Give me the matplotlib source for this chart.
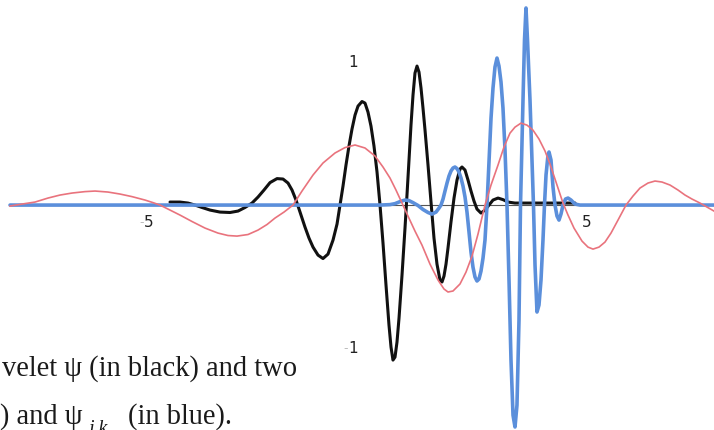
import matplotlib
matplotlib.use("Agg")
import matplotlib.pyplot as plt

# ---- data ----
red_x = [-8.102, -7.830, -7.534, -7.239, -6.966, -6.693, -6.398, -6.170, -5.875, -5.602,
         -5.330, -5.034, -4.852, -4.693, -4.466, -4.239, -3.966, -3.670, -3.375, -3.148,
         -2.943, -2.693, -2.466, -2.261, -2.080, -1.875, -1.670, -1.466, -1.216, -0.989,
         -0.716, -0.489, -0.261, -0.034, 0.193, 0.375, 0.534, 0.670, 0.807, 0.943,
         1.102, 1.261, 1.443, 1.625, 1.761, 1.852, 1.966, 2.125, 2.261, 2.398,
         2.534, 2.693, 2.830, 2.989, 3.125, 3.261, 3.375, 3.511, 3.648, 3.784,
         3.920, 4.057, 4.170, 4.307, 4.466, 4.580, 4.716, 4.898, 5.034, 5.148,
         5.284, 5.420, 5.557, 5.716, 5.898, 6.057, 6.216, 6.398, 6.557, 6.716,
         6.898, 7.080, 7.239, 7.398, 7.580, 7.739, 7.898]
red_y = [-0.007, 0.007, 0.021, 0.049, 0.070, 0.084, 0.094, 0.098, 0.091, 0.077,
         0.059, 0.035, 0.017, 0.0, -0.035, -0.070, -0.115, -0.161, -0.196, -0.213,
         -0.217, -0.206, -0.175, -0.136, -0.091, -0.049, 0.0, 0.098, 0.210, 0.294,
         0.364, 0.402, 0.420, 0.399, 0.343, 0.266, 0.189, 0.105, 0.014, -0.077,
         -0.182, -0.280, -0.413, -0.524, -0.587, -0.608, -0.601, -0.552, -0.469, -0.357,
         -0.203, 0.0, 0.140, 0.280, 0.406, 0.503, 0.545, 0.573, 0.559, 0.524,
         0.462, 0.378, 0.287, 0.161, 0.014, -0.070, -0.161, -0.252, -0.294, -0.308,
         -0.294, -0.259, -0.196, -0.105, 0.0, 0.063, 0.119, 0.154, 0.168, 0.161,
         0.140, 0.105, 0.070, 0.042, 0.014, -0.014, -0.042]

black_x = [-4.466, -4.239, -4.057, -3.898, -3.739, -3.557, -3.330, -3.102, -2.920, -2.761,
           -2.602, -2.466, -2.330, -2.193, -2.034, -1.898, -1.784, -1.693, -1.602, -1.511,
           -1.398, -1.307, -1.216, -1.102, -0.989, -0.875, -0.761, -0.670, -0.602, -0.534,
           -0.466, -0.398, -0.330, -0.261, -0.193, -0.102, -0.034, 0.034, 0.102, 0.170,
           0.239, 0.307, 0.375, 0.443, 0.511, 0.557, 0.602, 0.648, 0.693, 0.739,
           0.807, 0.875, 0.920, 0.966, 1.011, 1.057, 1.102, 1.148, 1.193, 1.239,
           1.284, 1.330, 1.398, 1.466, 1.534, 1.602, 1.670, 1.716, 1.761, 1.807,
           1.852, 1.920, 1.989, 2.057, 2.125, 2.170, 2.239, 2.307, 2.375, 2.443,
           2.511, 2.602, 2.693, 2.784, 2.875, 2.989, 3.102, 3.216, 3.375, 4.739]
black_y = [0.021, 0.021, 0.014, 0.0, -0.017, -0.035, -0.049, -0.052, -0.042, -0.017,
           0.014, 0.056, 0.105, 0.157, 0.185, 0.182, 0.154, 0.105, 0.035, -0.049,
           -0.154, -0.231, -0.294, -0.350, -0.374, -0.343, -0.245, -0.133, 0.0, 0.133,
           0.280, 0.413, 0.531, 0.629, 0.692, 0.724, 0.713, 0.650, 0.552, 0.413,
           0.231, 0.0, -0.266, -0.559, -0.839, -0.993, -1.084, -1.063, -0.958, -0.790,
           -0.490, -0.161, 0.070, 0.315, 0.559, 0.769, 0.923, 0.972, 0.930, 0.818,
           0.678, 0.524, 0.280, 0.021, -0.231, -0.413, -0.524, -0.538, -0.497, -0.413,
           -0.301, -0.119, 0.049, 0.175, 0.252, 0.266, 0.245, 0.175, 0.098, 0.028,
           -0.028, -0.056, -0.035, 0.0, 0.035, 0.049, 0.038, 0.021, 0.014, 0.014]

blue_x = [-8.102, 0.307, 0.534, 0.648, 0.761, 0.875, 0.966, 1.057, 1.170, 1.284,
          1.398, 1.489, 1.580, 1.648, 1.693, 1.739, 1.784, 1.830, 1.875, 1.920,
          1.966, 2.011, 2.057, 2.102, 2.148, 2.193, 2.239, 2.284, 2.330, 2.375,
          2.420, 2.466, 2.511, 2.557, 2.602, 2.648, 2.693, 2.739, 2.784, 2.830,
          2.875, 2.920, 2.966, 3.011, 3.057, 3.102, 3.148, 3.193, 3.239, 3.284,
          3.330, 3.375, 3.420, 3.466, 3.500, 3.557, 3.591, 3.625, 3.659, 3.716,
          3.795, 3.830, 3.875, 3.920, 3.966, 4.011, 4.045, 4.080, 4.125, 4.148,
          4.193, 4.239, 4.284, 4.330, 4.375, 4.420, 4.466, 4.523, 4.580, 4.648,
          4.739, 4.852, 7.898]
blue_y = [0.0, 0.0, 0.003, 0.010, 0.024, 0.035, 0.031, 0.017, -0.003, -0.031,
          -0.052, -0.063, -0.049, -0.021, 0.0, 0.042, 0.098, 0.154, 0.203, 0.238,
          0.259, 0.266, 0.255, 0.231, 0.189, 0.133, 0.056, -0.049, -0.189, -0.329,
          -0.434, -0.503, -0.531, -0.517, -0.462, -0.371, -0.245, 0.0, 0.301, 0.608,
          0.818, 0.965, 1.028, 0.972, 0.860, 0.678, 0.385, 0.0, -0.524, -1.084,
          -1.469, -1.552, -1.399, -0.804, 0.0, 0.734, 1.154, 1.378, 1.154, 0.734,
          0.0, -0.420, -0.748, -0.699, -0.524, -0.245, 0.0, 0.210, 0.350, 0.371,
          0.315, 0.126, 0.0, -0.077, -0.105, -0.063, 0.0, 0.042, 0.049, 0.035,
          0.007, 0.0, 0.0]

x_ticks = [-5, 5]
y_ticks = [1, -1]
caption_line1 = "velet ψ (in black) and two"
caption_line2a = ") and ψ"
caption_sub = "j,k"
caption_line2b = "(in blue)."

W, H = 714, 430
fig = plt.figure(figsize=(W / 100, H / 100), dpi=100)
fig.patch.set_facecolor("white")
ax = fig.add_axes([0, 0, 1, 1])
ax.set_xlim(-8.330, 7.898)
ax.set_ylim(-1.573, 1.434)
ax.axis("off")

# x axis line
ax.axhline(0, xmin=10 / W, xmax=1, color="#555555", lw=0.8, zorder=1)

ax.plot(black_x, black_y, color="#111111", lw=2.2, solid_capstyle="round",
        solid_joinstyle="round", zorder=2)
ax.plot(blue_x, blue_y, color="#5b8fdb", lw=2.6, solid_capstyle="round",
        solid_joinstyle="round", zorder=3)
ax.plot(red_x, red_y, color="#e9737d", lw=1.2, solid_joinstyle="round", zorder=4)

# tick labels (faint minus signs as in the scan)
tick_fs = 11
for v in x_ticks:
    txt = str(abs(v))
    ax.text(v + (0.06 if v < 0 else 0.0), -0.12, txt, ha="center", va="center",
            fontsize=tick_fs, color="#222222", family="DejaVu Sans")
    if v < 0:
        ax.text(v - 0.07, -0.12, "-", ha="right", va="center",
                fontsize=tick_fs - 2, color="#bbbbbb", family="DejaVu Sans")
for v in y_ticks:
    ax.text(-0.31, v, str(abs(v)), ha="center", va="center",
            fontsize=tick_fs, color="#222222", family="DejaVu Sans")
    if v < 0:
        ax.text(-0.42, v, "-", ha="right", va="center",
                fontsize=tick_fs - 2, color="#bbbbbb", family="DejaVu Sans")

# caption fragment (cut off by the scan)
cap_fs = 18
serif = ["Liberation Serif", "DejaVu Serif"]
t1 = fig.text(2 / W, 1 - 376 / H, caption_line1, fontsize=cap_fs, family=serif,
              color="#1a1a1a", va="baseline", ha="left")
fig.canvas.draw()
r = fig.canvas.get_renderer()
bb = t1.get_window_extent(r)
cap_fs = cap_fs * (296 / bb.width)
t1.set_fontsize(cap_fs)

fig.text(0 / W, 1 - 424 / H, caption_line2a, fontsize=cap_fs, family=serif,
         color="#1a1a1a", va="baseline", ha="left")
fig.text(88 / W, 1 - 434 / H, caption_sub, fontsize=cap_fs * 0.7, family=serif,
         style="italic", color="#1a1a1a", va="baseline", ha="left")
fig.text(128 / W, 1 - 424 / H, caption_line2b, fontsize=cap_fs, family=serif,
         color="#1a1a1a", va="baseline", ha="left")

fig.savefig("out.png", dpi=100, facecolor="white")
